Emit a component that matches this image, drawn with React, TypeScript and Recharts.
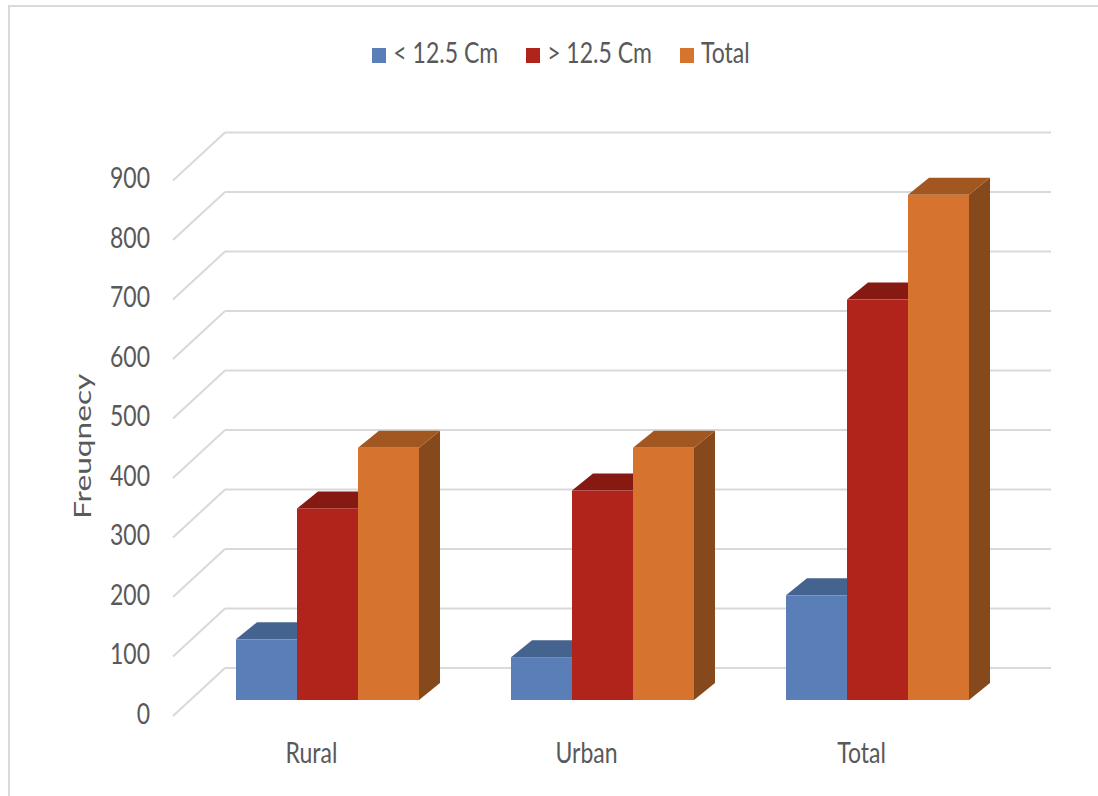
import { BarChart, Bar, XAxis, YAxis, CartesianGrid, Legend } from "recharts"

const categories = ["Rural", "Urban", "Total"]
const belowValues = [102, 72, 176]
const aboveValues = [322, 352, 673]
const totalValues = [424, 424, 849]
const yTicks = [0, 100, 200, 300, 400, 500, 600, 700, 800, 900]

const series = [
  { key: "below", name: "< 12.5 Cm", front: "#5A7FB8", top: "#45638F", side: "#3B5580" },
  { key: "above", name: "> 12.5 Cm", front: "#B0241B", top: "#871913", side: "#741510" },
  { key: "total", name: "Total", front: "#D6742F", top: "#A1571F", side: "#86491C" },
]

const data = categories.map((name, i) => ({
  name,
  below: belowValues[i],
  above: aboveValues[i],
  total: totalValues[i],
}))

const TEXT = "#595959"
const GRID = "#D9D9D9"
const FONT = "Lato, 'Open Sans', sans-serif"
const STRETCH = 1.25
// bar depth and floor/wall offsets of the fake 3d
const DX = 21
const DY = 17
const FRONT = { dx: -17, dy: 16 }
const BACK = { dx: 35, dy: -32 }

function boxShape(s: (typeof series)[number]) {
  return (props: any) => {
    const { x, y, width: w, height: h } = props
    if (h == null || w == null) return <g />
    return (
      <g>
        <polygon
          points={`${x + w},${y} ${x + w + DX},${y - DY} ${x + w + DX},${y + h - DY} ${x + w},${y + h}`}
          fill={s.side}
        />
        <polygon points={`${x},${y} ${x + DX},${y - DY} ${x + w + DX},${y - DY} ${x + w},${y}`} fill={s.top} />
        <rect x={x} y={y} width={w} height={h} fill={s.front} />
      </g>
    )
  }
}

const gridLine = (p: any) => (
  <g key={p.key}>
    <line
      x1={p.x1 + FRONT.dx}
      y1={p.y1 + FRONT.dy}
      x2={p.x1 + BACK.dx}
      y2={p.y1 + BACK.dy}
      stroke={GRID}
      strokeWidth={2}
    />
    <line
      x1={p.x1 + BACK.dx}
      y1={p.y1 + BACK.dy}
      x2={p.x2 + BACK.dx + 1}
      y2={p.y1 + BACK.dy}
      stroke={GRID}
      strokeWidth={2}
    />
  </g>
)

const YTick = (p: any) => (
  <text
    transform={`translate(${p.x - 40},${p.y + 23.5}) scale(1,${STRETCH})`}
    textAnchor="end"
    fill={TEXT}
    fontSize={23}
    fontFamily={FONT}
  >
    {p.payload.value}
  </text>
)

const XTick = (p: any) => (
  <text
    transform={`translate(${p.x - 16},${p.y + 63}) scale(1,${STRETCH})`}
    textAnchor="middle"
    fill={TEXT}
    fontSize={23}
    fontFamily={FONT}
  >
    {p.payload.value}
  </text>
)

const YLabel = (p: any) => {
  const vb = p.viewBox
  return (
    <text
      transform={`translate(${vb.x - 39},${vb.y + vb.height / 2 + 14}) rotate(-90) scale(1.32,1)`}
      textAnchor="middle"
      fill={TEXT}
      fontSize={24}
      fontFamily={FONT}
    >
      Freuqnecy
    </text>
  )
}

const LegendContent = (p: any) => (
  <div
    style={{
      display: "flex",
      justifyContent: "center",
      gap: 28,
      paddingLeft: 24,
      fontFamily: FONT,
      fontSize: 23,
      color: TEXT,
    }}
  >
    {(p.payload || []).map((e: any) => (
      <div key={e.value} style={{ display: "flex", alignItems: "center" }}>
        <span style={{ display: "inline-block", width: 14, height: 15, background: e.color, marginRight: 7 }} />
        <span style={{ display: "inline-block", transform: `scaleY(${STRETCH})`, lineHeight: "26px", marginTop: -6 }}>
          {e.value}
        </span>
      </div>
    ))}
  </div>
)

export default function App() {
  return (
    <div style={{ position: "absolute", left: 0, top: 0, width: 1098, height: 796, background: "#fff" }}>
      <div
        style={{
          position: "absolute",
          left: 8,
          top: 5,
          width: 1090,
          height: 791,
          borderLeft: `2px solid ${GRID}`,
          borderTop: `2px solid ${GRID}`,
        }}
      />
      <BarChart
        width={1098}
        height={796}
        data={data}
        margin={{ top: 164.5, right: 83, bottom: 0, left: 130 }}
        barGap={0}
        barSize={61}
      >
        <CartesianGrid vertical={false} horizontal={gridLine} />
        <XAxis
          dataKey="name"
          axisLine={false}
          tickLine={false}
          tickSize={0}
          tickMargin={0}
          height={96}
          tick={XTick}
        />
        <YAxis
          domain={[0, 900]}
          ticks={yTicks}
          interval={0}
          axisLine={false}
          tickLine={false}
          tickSize={0}
          tickMargin={0}
          width={60}
          tick={YTick}
          label={{ content: YLabel }}
        />
        <Legend
          verticalAlign="middle"
          align="center"
          wrapperStyle={{ top: 45, left: 0, width: 1098 }}
          content={LegendContent}
        />
        {series.map((s) => (
          <Bar
            key={s.key}
            dataKey={s.key}
            name={s.name}
            fill={s.front}
            shape={boxShape(s)}
            isAnimationActive={false}
          />
        ))}
      </BarChart>
    </div>
  )
}
